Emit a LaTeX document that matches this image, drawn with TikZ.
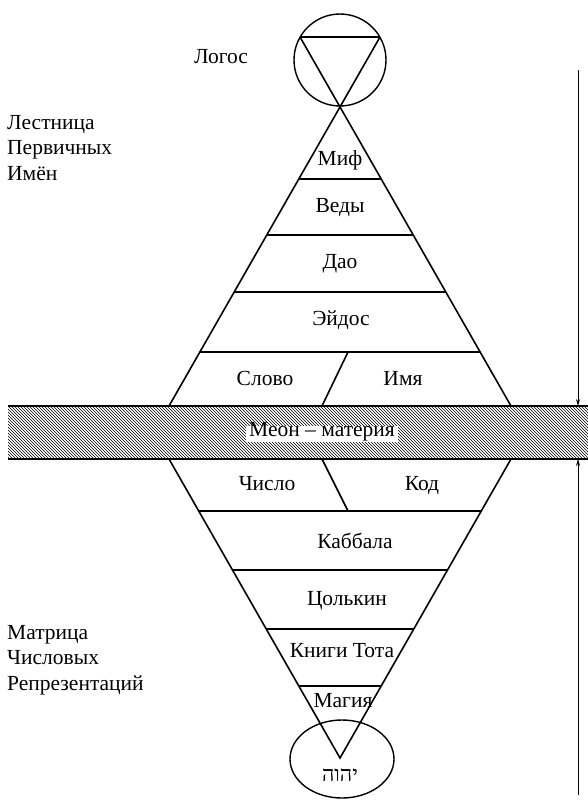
\documentclass[tikz,border=0pt]{standalone}
\usepackage{fontspec}
\setmainfont{Liberation Serif}
\newfontfamily\hebrewfont[Script=Hebrew]{Liberation Serif}
\TeXXeTstate=1
\usetikzlibrary{patterns, arrows.meta, positioning, shapes.geometric}
\tikzset{
  pyr/.style={line width=1.6pt}, % lines of both pyramids
  lbl/.style={font=\fontsize{21.5}{25.5}\selectfont, inner sep=1pt,
    text height=0.7em, text depth=0.25em}, % text inside
  side/.style={font=\fontsize{21.5}{25.5}\selectfont, inner sep=1pt, align=left, anchor=west}, % texts on the left
  span/.style={-{Stealth[length=7pt,width=4pt]}, line width=0.7pt}, % arrows on the right
}

\begin{document}
\begin{tikzpicture}[x=1pt, y=-1pt]
\useasboundingbox (0,0) rectangle (588,800);

% meon band
\fill[pattern=north west lines] (8,406) rectangle (588,459);
\draw[line width=1.6pt] (8,406) -- (588,406) (8,459) -- (588,459);

% logos circle with triangle
\node[circle, draw, line width=1.4pt, minimum size=92pt, inner sep=0pt] (logo) at (340,60) {};
\coordinate (tl) at (300,37);
\coordinate (tr) at (380,37);
\coordinate (apex) at (340,107);
\draw[pyr] (tl) -- (tr);
% upper pyramid
\draw[pyr] (tl) -- (511,406) (tr) -- (169,406);
\foreach \y in {179,235,292,352}
  \draw[pyr] ({340-(\y-107)*0.5719},\y) -- ({340+(\y-107)*0.5719},\y);
\draw[pyr] (322,406) -- (348,352);

% lower pyramid
\coordinate (low) at (340,758);
\draw[pyr] (169,459) -- (low) -- (511,459);
\foreach \y in {511,570,629,686}
  \draw[pyr] ({340-(758-\y)*0.5719},\y) -- ({340+(758-\y)*0.5719},\y);
\draw[pyr] (322,459) -- (348,511);
\node[ellipse, draw, line width=1.4pt, minimum width=104pt, minimum height=78pt, inner sep=0pt] (yhwh) at (342,759) {};

% texts
\node[lbl] (logos) at (221,61) {Логос};
\node[side] (ladder) at (6,148) {Лестница\\Первичных\\Имён};
\node[side] (matrix) at (6,660) {Матрица\\Числовых\\Репрезентаций};
\node[lbl] (myth) at (340,163) {Миф};
\node[lbl] (vedy) at (340,210) {Веды};
\node[lbl] (dao) at (340,266) {Дао};
\node[lbl] (eidos) at (341,323) {Эйдос};
\node[lbl] (slovo) at (265,383) {Слово};
\node[lbl] (imya) at (403,383) {Имя};
\node[lbl, fill=white, inner sep=3pt] (meon) at (322,434) {Меон – материя};
\node[lbl] (chislo) at (267,488) {Число};
\node[lbl] (kod) at (422,488) {Код};
\node[lbl] (kabbala) at (355,546) {Каббала};
\node[lbl] (tzolkin) at (347,603) {Цолькин};
\node[lbl] (thoth) at (342,655) {Книги Тота};
\node[lbl] (magia) at (343,705) {Магия};
\node[lbl] (name) at (340,779) {\hebrewfont\beginR יהוה\endR};

% arrows on the right
\coordinate (upA) at (578,70);
\coordinate (upB) at (578,406);
\coordinate (dnA) at (578,795);
\coordinate (dnB) at (578,459);
\draw[span] (upA) -- (upB);
\draw[span] (dnA) -- (dnB);
\end{tikzpicture}
\end{document}
